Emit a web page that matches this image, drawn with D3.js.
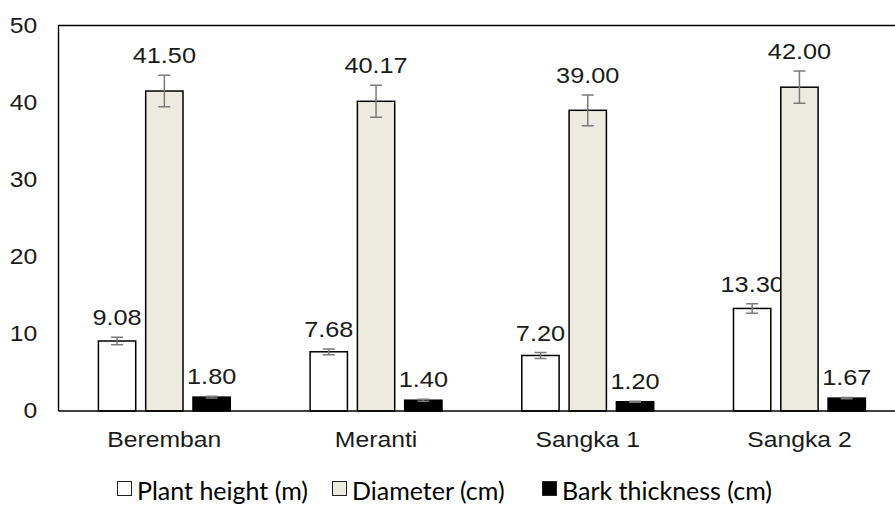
<!DOCTYPE html>
<html>
<head>
<meta charset="utf-8">
<script src="https://cdn.jsdelivr.net/npm/d3@7"></script>
<style>
  body { margin: 0; background: #fff; }
  svg { display: block; }
</style>
</head>
<body>
<svg id="chart"></svg>
<script>
// data
const sites = ["Beremban", "Meranti", "Sangka 1", "Sangka 2"];
const seriesNames = ["Plant height (m)", "Diameter (cm)", "Bark thickness (cm)"];
const plantHeight = [9.08, 7.68, 7.20, 13.30];
const plantHeightErr = [0.5, 0.37, 0.38, 0.62];
const diameter = [41.50, 40.17, 39.00, 42.00];
const diameterErr = [2.05, 2.07, 2.0, 2.1];
const barkThickness = [1.80, 1.40, 1.20, 1.67];
const barkThicknessErr = [0.1, 0.12, 0.05, 0.09];
const yTicks = [0, 10, 20, 30, 40, 50];

const fills = ["#ffffff", "#edebe0", "#000000"];
const values = [plantHeight, diameter, barkThickness];
const errors = [plantHeightErr, diameterErr, barkThicknessErr];

const rows = [];
sites.forEach((s, i) => {
    seriesNames.forEach((n, j) => {
        rows.push({ site: s, series: n, value: values[j][i], err: errors[j][i], fill: fills[j] });
    });
});

const W = 895, H = 505;
const margin = { top: 25.5, left: 58.5, bottom: 94 };
const stepX = 211.7;
const stretch = 1.15;

const svg = d3.select("#chart").attr("width", W).attr("height", H);

const x0 = d3.scaleBand().domain(sites)
    .range([margin.left, margin.left + stepX * sites.length])
    .paddingInner(0.377).paddingOuter(0.1885);
const x1 = d3.scaleBand().domain(seriesNames)
    .range([0, x0.bandwidth()])
    .paddingInner(0.211);
const y = d3.scaleLinear().domain([0, 50]).range([H - margin.bottom, margin.top]);

// plot frame (right side falls outside the picture)
svg.append("path")
    .attr("d", `M${margin.left},${y(0)}V${margin.top}H${W + 20}`)
    .attr("fill", "none")
    .attr("stroke", "#000")
    .attr("stroke-width", 1.4);

const groups = svg.selectAll(".bar")
    .data(rows)
    .enter().append("g")
    .attr("transform", d => `translate(${x0(d.site) + x1(d.series)},0)`);

groups.append("rect")
    .attr("x", 0)
    .attr("y", d => y(d.value))
    .attr("width", x1.bandwidth())
    .attr("height", d => y(0) - y(d.value))
    .attr("fill", d => d.fill)
    .attr("stroke", "#000")
    .attr("stroke-width", 1.5);

// error bars
const cx = x1.bandwidth() / 2;
groups.append("path")
    .attr("d", d => `M${cx},${y(d.value + d.err)}V${y(d.value - d.err)}` +
        `M${cx - 6},${y(d.value + d.err)}h12M${cx - 6},${y(d.value - d.err)}h12`)
    .attr("fill", "none")
    .attr("stroke", "#7a7a7a")
    .attr("stroke-width", 1.5);

groups.append("text")
    .attr("transform", d => `translate(${cx},${y(d.value + d.err) - 12}) scale(${stretch},1)`)
    .attr("text-anchor", "middle")
    .style("font-family", "'Liberation Sans', Arial, sans-serif")
    .style("font-size", "22px")
    .attr("fill", "#1a1a1a")
    .text(d => d3.format(".2f")(d.value));

// x axis
const xAxis = svg.append("g")
    .attr("transform", `translate(0,${y(0)})`)
    .call(d3.axisBottom(x0).tickSize(0).tickPadding(20.5));
xAxis.select(".domain").attr("d", `M${margin.left},0H${W + 20}`).attr("stroke", "#000").attr("stroke-width", 1.4);
xAxis.selectAll("text")
    .attr("transform", `scale(${stretch},1)`)
    .style("font-family", "'Liberation Sans', Arial, sans-serif")
    .style("font-size", "21.5px")
    .attr("fill", "#1a1a1a");

// y axis
const yAxis = svg.append("g")
    .attr("transform", `translate(${margin.left},0)`)
    .call(d3.axisLeft(y).tickValues(yTicks).tickSize(0).tickPadding(18.5));
yAxis.select(".domain").remove();
yAxis.selectAll("text")
    .attr("transform", `scale(${stretch},1)`)
    .style("font-family", "'Liberation Sans', Arial, sans-serif")
    .style("font-size", "21.5px")
    .attr("fill", "#1a1a1a");

// legend
const legendX = [117, 332, 542];
const legend = svg.selectAll(".legend")
    .data(seriesNames)
    .enter().append("g")
    .attr("transform", (d, i) => `translate(${legendX[i]},481)`);

legend.append("rect")
    .attr("x", 0.5).attr("y", 0.5)
    .attr("width", 14).attr("height", 14)
    .attr("fill", (d, i) => fills[i])
    .attr("stroke", "#222")
    .attr("stroke-width", 1);

legend.append("text")
    .attr("x", 20)
    .attr("y", 18.5)
    .style("font-family", "Lato, sans-serif")
    .style("font-size", "25px")
    .attr("fill", "#000")
    .text(d => d);
</script>
</body>
</html>
